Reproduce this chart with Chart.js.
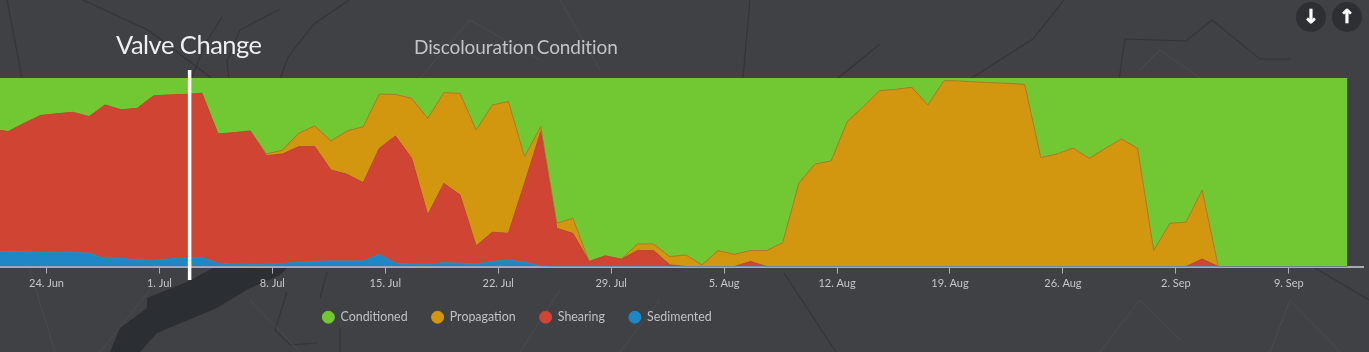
<!DOCTYPE html>
<html>
<head>
<meta charset="utf-8">
<title>Discolouration Condition</title>
<script src="https://cdn.jsdelivr.net/npm/chart.js@4"></script>
<style>
  html, body { margin: 0; padding: 0; background: #3f4144; overflow: hidden; }
  #wrap { position: relative; width: 1369px; height: 352px; font-family: Lato, sans-serif; filter: blur(0.6px); }
  #map, #chart { position: absolute; left: 0; top: 0; }
  .title { position: absolute; white-space: nowrap; }
  #valve { left: 116px; top: 29px; font-size: 25.5px; letter-spacing: -0.5px; color: #eceef0; }
  #cond { left: 414px; top: 35px; font-size: 19px; word-spacing: -2px; letter-spacing: -0.1px; color: #c2c5c8; }
  .btn { position: absolute; top: 2px; width: 30px; height: 30px; border-radius: 50%; background: #2d2f33;
         color: #fff; font: bold 19px/29px "DejaVu Sans", sans-serif; text-align: center; -webkit-text-stroke: 0.7px #fff; }
</style>
</head>
<body>
<div id="wrap">
  <svg id="map" width="1369" height="352">
    <path d="M110 352 L120 328 L147 308 L147 298 L187 282 L213 268 L227 262 L293 262 L280 275 L250 288 L217 308 L157 333 L140 352 Z" fill="#2b2e33" />
    <g fill="none" stroke="#333539" stroke-width="1.2">
      <path d="M349 0 L314 24 L288 57 L280 80 M280 9 L240 30 L227 61 L231 100 M222 17 L205 44 L183 100 M7 0 L26 100 M83 0 L148 30 L218 83" />
      <path d="M1064 0 L1033 39 L937 100 M880 44 L832 83 M750 0 L741 100 M1116 100 L1125 39 L1186 41 L1212 20 L1260 59 L1291 59" />
      <path d="M327 272 L320 298 M340 328 L340 352 M287 292 L275 330 L290 345 L317 343 M784 273 L836 352 M1310 265 L1369 300" />
    </g>
    <g fill="none" stroke="#494b4e" stroke-width="1">
      <path d="M30 270 L55 352 M150 290 L100 352 M250 300 L300 352 M560 290 L520 352 M620 352 L660 300 M1100 352 L1140 300 L1180 340 M1270 352 L1290 300 L1340 352" />
      <path d="M420 78 L470 20 L540 60 M560 0 L600 70 M1140 70 L1160 50 L1200 78" />
    </g>
  </svg>
  <canvas id="chart" width="1369" height="352"></canvas>
  <div class="title" id="valve">Valve Change</div>
  <div class="title" id="cond">Discolouration Condition</div>
  <div class="btn" style="left:1296px">↓</div>
  <div class="btn" style="left:1332px">↑</div>
</div>

<script>
/* --------- データ --------- */
// 24 Jun = 0, one unit per day
const tickDays = [0, 7, 14, 21, 28, 35, 42, 49, 56, 63, 70, 77];
const tickLabels = ["24. Jun", "1. Jul", "8. Jul", "15. Jul", "22. Jul", "29. Jul", "5. Aug", "12. Aug", "19. Aug", "26. Aug", "2. Sep", "9. Sep"];

// readings are taken once a day, a little after midday
const firstReadingDay = -3.37;
const valveChangeDay = 8.87;

const conditioned = [
  27.2, 28.4, 24.0, 19.9, 19.0, 18.2, 20.5, 14.3, 16.9, 16.1,
  9.5, 9.0, 8.7, 8.1, 29.7, 29.0, 28.1, 40.3, 38.2, 29.3,
  25.4, 33.4, 28.1, 25.8, 8.5, 8.7, 10.8, 21.4, 7.8, 8.1,
  27.6, 14.3, 12.5, 41.7, 25.8, 77.0, 74.4, 97.3, 94.3, 96.1,
  88.0, 88.0, 94.7, 93.8, 99.1, 91.5, 93.5, 91.5, 91.5, 87.3,
  55.8, 45.6, 44.0, 23.1, 15.2, 6.7, 6.0, 4.9, 14.3, 1.4,
  1.6, 2.1, 2.5, 2.8, 3.4, 42.2, 40.3, 37.1, 42.6, 37.3,
  32.3, 37.3, 91.5, 77.0, 76.5, 59.4, 100, 100, 100, 100,
  100, 100, 100, 100, 100
];
const propagation = [
  0, 0, 0, 0, 0, 0, 0, 0, 0, 0,
  0, 0, 0, 0, 0, 0, 0, 0.9, 2.1, 7.1,
  11.0, 15.4, 23.0, 29.7, 28.8, 22.1, 31.8, 51.2, 48.1, 53.9,
  61.5, 67.5, 69.8, 14.1, 2.7, 2.7, 8.0, 0, 0, 0,
  3.5, 3.5, 4.4, 6.2, 0.9, 8.5, 6.5, 5.8, 8.5, 12.7,
  44.2, 54.4, 56.0, 76.9, 84.8, 93.3, 94.0, 95.1, 85.7, 98.6,
  98.4, 97.9, 97.5, 97.2, 96.6, 57.8, 59.7, 62.9, 57.4, 62.7,
  67.7, 62.7, 8.5, 23.0, 23.5, 36.6, 0, 0, 0, 0,
  0, 0, 0, 0, 0
];
const shearing = [
  64.8, 63.6, 68.0, 72.5, 73.4, 74.2, 72.4, 81.6, 78.7, 80.4,
  87.1, 86.9, 86.7, 87.0, 68.5, 69.6, 70.7, 57.6, 58.0, 61.3,
  60.9, 48.2, 45.9, 41.5, 56.2, 67.4, 56.0, 26.2, 42.0, 36.2,
  9.5, 15.5, 14.2, 41.9, 71.1, 20.3, 17.6, 2.7, 5.7, 3.9,
  8.5, 8.5, 0.9, 0, 0, 0, 0, 2.7, 0, 0,
  0, 0, 0, 0, 0, 0, 0, 0, 0, 0,
  0, 0, 0, 0, 0, 0, 0, 0, 0, 0,
  0, 0, 0, 0, 0, 4.0, 0, 0, 0, 0,
  0, 0, 0, 0, 0
];
const sedimented = [
  8.0, 8.0, 8.0, 7.6, 7.6, 7.6, 7.1, 4.1, 4.4, 3.5,
  3.4, 4.1, 4.6, 4.9, 1.8, 1.4, 1.2, 1.2, 1.7, 2.3,
  2.7, 3.0, 3.0, 3.0, 6.5, 1.8, 1.4, 1.2, 2.1, 1.8,
  1.4, 2.7, 3.5, 2.3, 0.4, 0, 0, 0, 0, 0,
  0, 0, 0, 0, 0, 0, 0, 0, 0, 0,
  0, 0, 0, 0, 0, 0, 0, 0, 0, 0,
  0, 0, 0, 0, 0, 0, 0, 0, 0, 0,
  0, 0, 0, 0, 0, 0, 0, 0, 0, 0,
  0, 0, 0, 0, 0
];

/* --------- ヘルパー --------- */
function makeDataset(label, values, color, edge, fill) {
  return {
    label,
    data: values.map((y, i) => ({ x: firstReadingDay + i, y })),
    backgroundColor: color,
    borderColor: edge,
    borderWidth: 1,
    fill,
    tension: 0,
    pointRadius: 0,
    pointBackgroundColor: color,
    pointBorderColor: color,
  };
}

// white marker line for the valve change, goes past the plot on both sides
const valveLine = {
  id: "valveLine",
  afterDatasetsDraw(chart) {
    const x = chart.scales.x.getPixelForValue(valveChangeDay);
    const ctx = chart.ctx;
    ctx.save();
    ctx.strokeStyle = "#ffffff";
    ctx.lineWidth = 3.5;
    ctx.beginPath();
    ctx.moveTo(x, 70);
    ctx.lineTo(x, 280);
    ctx.stroke();
    ctx.restore();
  },
};

// legend sits left of the page centre and close under the axis
const legendShift = {
  id: "legendShift",
  beforeDraw(chart) {
    chart.legend.right = 1034;
    chart.legend.top = 287;
  },
};

/* --------- グラフ描画 --------- */
new Chart(document.getElementById("chart"), {
  type: "line",
  data: {
    datasets: [
      makeDataset("Sedimented", sedimented, "#1f87c6", "#2f8fb8", "origin"),
      makeDataset("Shearing", shearing, "#d04433", "#c04a30", "-1"),
      makeDataset("Propagation", propagation, "#d2960f", "#a8812a", "-1"),
      makeDataset("Conditioned", conditioned, "#72c832", "#72c832", "-1"),
    ],
  },
  options: {
    responsive: false,
    animation: false,
    layout: { padding: { top: 78, right: 6, bottom: 13, left: 0 } },
    plugins: {
      tooltip: { enabled: false },
      legend: {
        position: "bottom",
        reverse: true,
        labels: {
          usePointStyle: true,
          pointStyle: "circle",
          boxHeight: 8.5,
          boxWidth: 12,
          padding: 24,
          color: "#bfc2c4",
          font: { family: "Lato", size: 12.4 },
        },
      },
    },
    scales: {
      x: {
        type: "linear",
        min: -2.883,
        max: 81.6,
        afterBuildTicks(axis) {
          axis.ticks = tickDays.map((value) => ({ value }));
        },
        ticks: {
          autoSkip: false,
          maxRotation: 0,
          padding: 3,
          color: "#c4c6c8",
          font: { family: "Lato", size: 11 },
          callback: (v) => tickLabels[tickDays.indexOf(v)],
        },
        grid: { drawOnChartArea: false, drawTicks: true, tickLength: 7, color: "#aab0bc" },
        border: { display: true, color: "#a4acb8", width: 2 },
        afterFit(axis) { axis.height = 26; },
      },
      y: { display: false, stacked: true, min: 0, max: 100 },
    },
  },
  plugins: [valveLine, legendShift],
});
</script>
</body>
</html>
